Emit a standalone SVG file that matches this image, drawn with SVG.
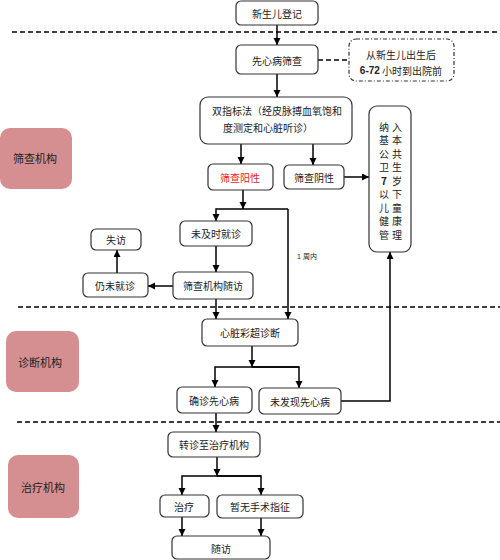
<svg xmlns="http://www.w3.org/2000/svg" width="500" height="560" viewBox="0 0 500 560">
<defs>
<marker id="ah" markerUnits="userSpaceOnUse" markerWidth="8" markerHeight="8" refX="7" refY="3.5" orient="auto">
<path d="M0,0 L7,3.5 L0,7 z" fill="#000"/>
</marker>
<style>
.box{fill:#fff;stroke:#333;stroke-width:1.2}
.lab{fill:#d58f91;stroke:none}
.t{font-family:"Noto Sans CJK SC","Liberation Serif",serif;font-size:10px;fill:#222;text-anchor:middle;dominant-baseline:central}
.tl{font-family:"Noto Sans CJK SC","Liberation Serif",serif;font-size:11px;fill:#222;text-anchor:middle;dominant-baseline:central}
.c{fill:none;stroke:#000;stroke-width:1.5}
.ca{fill:none;stroke:#000;stroke-width:1.5;marker-end:url(#ah)}
.sep{fill:none;stroke:#000;stroke-width:1.5;stroke-dasharray:5,3}
</style>
</defs>
<rect width="500" height="560" fill="#fff"/>
<g id="separators">
<line class="sep" x1="12" y1="32" x2="500" y2="32"/>
<line class="sep" x1="18" y1="307" x2="500" y2="307"/>
<line class="sep" x1="17" y1="422" x2="500" y2="422"/>
</g>
<g id="lane-screening"><rect class="lab" x="0" y="128" width="72" height="61" rx="10"/><text class="tl" x="35" y="158">筛查机构</text></g>
<g id="lane-diagnosis"><rect class="lab" x="6" y="331" width="73" height="61" rx="10"/><text class="tl" x="40" y="362">诊断机构</text></g>
<g id="lane-treatment"><rect class="lab" x="8" y="455" width="71" height="63" rx="10"/><text class="tl" x="43" y="487">治疗机构</text></g>
<g id="connectors">
<path class="ca" d="M277,25 V45"/>
<path class="c" d="M318,60 H349" stroke-dasharray="5,3"/>
<path class="ca" d="M277,74 V97"/>
<path class="ca" d="M241,144 V164"/>
<path class="ca" d="M313,144 V165"/>
<path class="ca" d="M344,177 H369"/>
<path class="ca" d="M243,190 V209"/>
<path class="ca" d="M288,209 H216 V221"/>
<path class="ca" d="M288,209 V319"/>
<path class="ca" d="M216,246 V272"/>
<path class="ca" d="M173,286 H148"/>
<path class="ca" d="M117,273 V250"/>
<path class="ca" d="M216,299 V319"/>
<path class="ca" d="M252,346 V367"/>
<path class="ca" d="M299,367 H215 V387"/>
<path class="ca" d="M252,367 H299 V388"/>
<path class="ca" d="M341,401 H390 V252"/>
<path class="ca" d="M216,413 V432"/>
<path class="ca" d="M217,457 V476"/>
<path class="ca" d="M261,476 H182 V495"/>
<path class="ca" d="M217,476 H261 V495"/>
<path class="ca" d="M182,517 V536"/>
<path class="ca" d="M261,518 V536"/>
<text x="307" y="256" font-family="Liberation Sans,Noto Sans CJK SC,sans-serif" font-size="7" fill="#222" text-anchor="middle" dominant-baseline="central">1 周内</text>
</g>
<g id="n-register"><rect class="box" x="236" y="1" width="82" height="24" rx="5"/><text class="t" x="277" y="13">新生儿登记</text></g>
<g id="n-screen"><rect class="box" x="236" y="45" width="82" height="29" rx="5"/><text class="t" x="277" y="60">先心病筛查</text></g>
<g id="n-time"><rect x="349" y="39" width="105" height="42" rx="7" fill="#fff" stroke="#333" stroke-width="1.2" stroke-dasharray="4,2,1,2"/>
<text class="t" x="401" y="54">从新生儿出生后</text>
<text class="t" x="401" y="70"><tspan font-family="Liberation Sans,sans-serif" font-weight="bold">6-72</tspan> 小时到出院前</text></g>
<g id="n-dual"><rect class="box" x="200" y="97" width="152" height="47" rx="8"/>
<text class="t" x="277" y="110">双指标法（经皮脉搏血氧饱和</text>
<text class="t" x="268" y="127">度测定和心脏听诊）</text></g>
<g id="n-positive"><rect class="box" x="208" y="164" width="65" height="26" rx="5"/><text class="t" x="240" y="177" style="fill:#e02525">筛查阳性</text></g>
<g id="n-negative"><rect class="box" x="284" y="165" width="60" height="24" rx="5"/><text class="t" x="314" y="177">筛查阴性</text></g>
<g id="n-manage"><rect class="box" x="369" y="106" width="42" height="146" rx="8"/>
<text class="t" x="384" y="126">纳</text><text class="t" x="397" y="126">入</text>
<text class="t" x="384" y="139.5">基</text><text class="t" x="397" y="139.5">本</text>
<text class="t" x="384" y="153">公</text><text class="t" x="397" y="153">共</text>
<text class="t" x="384" y="166.5">卫</text><text class="t" x="397" y="166.5">生</text>
<text class="t" x="384" y="180" font-family="Liberation Sans,sans-serif" font-weight="bold">7</text><text class="t" x="397" y="180">岁</text>
<text class="t" x="384" y="193.5">以</text><text class="t" x="397" y="193.5">下</text>
<text class="t" x="384" y="207">儿</text><text class="t" x="397" y="207">童</text>
<text class="t" x="384" y="220.5">健</text><text class="t" x="397" y="220.5">康</text>
<text class="t" x="384" y="234">管</text><text class="t" x="397" y="234">理</text></g>
<g id="n-late"><rect class="box" x="180" y="221" width="72" height="25" rx="5"/><text class="t" x="216" y="233.5">未及时就诊</text></g>
<g id="n-lost"><rect class="box" x="91" y="229" width="50" height="21" rx="5"/><text class="t" x="116" y="239.5">失访</text></g>
<g id="n-follow1"><rect class="box" x="173" y="272" width="80" height="27" rx="5"/><text class="t" x="213" y="285.5">筛查机构随访</text></g>
<g id="n-still"><rect class="box" x="83" y="273" width="65" height="24" rx="5"/><text class="t" x="115" y="285">仍未就诊</text></g>
<g id="n-echo"><rect class="box" x="202" y="319" width="96" height="27" rx="5"/><text class="t" x="250" y="332.5">心脏彩超诊断</text></g>
<g id="n-confirm"><rect class="box" x="177" y="387" width="75" height="26" rx="5"/><text class="t" x="214" y="400">确诊先心病</text></g>
<g id="n-notfound"><rect class="box" x="259" y="388" width="82" height="26" rx="5"/><text class="t" x="300" y="401">未发现先心病</text></g>
<g id="n-refer"><rect class="box" x="168" y="432" width="92" height="25" rx="5"/><text class="t" x="214" y="444.5">转诊至治疗机构</text></g>
<g id="n-treat"><rect class="box" x="160" y="495" width="49" height="22" rx="5"/><text class="t" x="184" y="506">治疗</text></g>
<g id="n-nosurg"><rect class="box" x="217" y="495" width="86" height="23" rx="5"/><text class="t" x="260" y="506.5">暂无手术指征</text></g>
<g id="n-follow2"><rect class="box" x="172" y="536" width="98" height="23" rx="5"/><text class="t" x="221" y="548">随访</text></g>
</svg>
